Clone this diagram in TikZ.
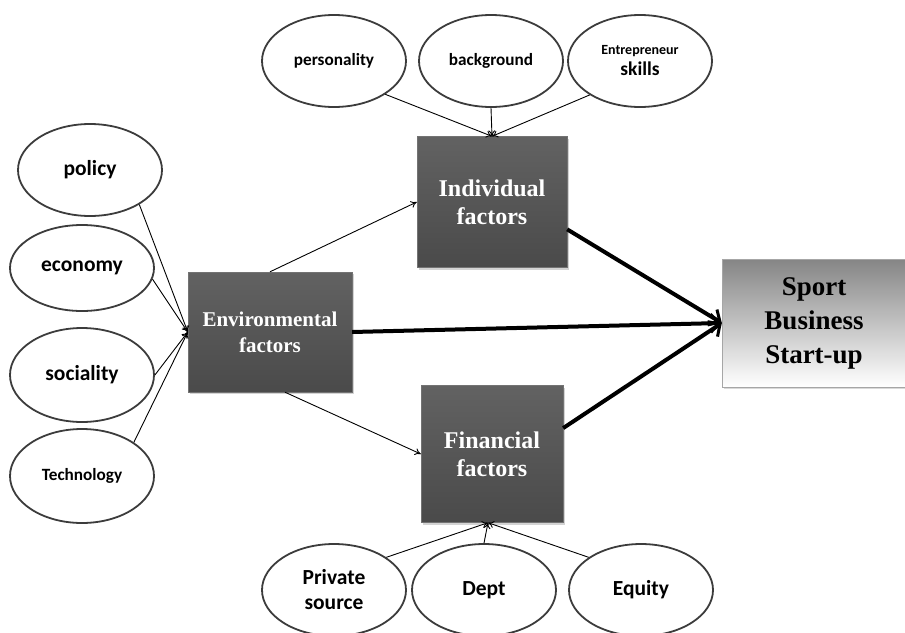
\documentclass[tikz,border=0pt]{standalone}
\usepackage{fontspec}
\setmainfont{Liberation Serif}
\newfontfamily\calibri{Carlito}
\usetikzlibrary{shapes.geometric,arrows.meta,shadows}

\definecolor{ringgray}{HTML}{3C3C3C}
\definecolor{boxtop}{HTML}{626262}
\definecolor{boxbottom}{HTML}{4A4A4A}
\definecolor{goaltop}{HTML}{858585}

\tikzset{
	factor/.style={ellipse, draw=ringgray, line width=1.8pt, fill=white, inner sep=0pt,
		minimum width=144pt, minimum height=92pt, align=center,
		font=\calibri\bfseries\fontsize{21.5}{25}\selectfont},
	smallfactor/.style={factor, font=\calibri\bfseries\fontsize{17.2}{20}\selectfont},
	darkbox/.style={rectangle, draw=black!55, top color=boxtop, bottom color=boxbottom,
		text=white, align=center, inner sep=0pt,
		font=\bfseries\fontsize{24}{28}\selectfont,
		drop shadow={shadow xshift=2pt, shadow yshift=-2pt, opacity=0.35}},
	goalbox/.style={rectangle, draw=black!35, top color=goaltop, bottom color=white,
		align=center, inner sep=0pt, font=\bfseries\fontsize{27}{34}\selectfont,
		drop shadow={shadow xshift=2pt, shadow yshift=-2pt, opacity=0.3}},
	link/.style={line width=0.9pt, -{To[length=6pt,width=7pt]}},
	mainlink/.style={line width=4pt, -{Straight Barb[length=9pt,width=18pt,line width=3pt]}}
}

\begin{document}
\begin{tikzpicture}[x=1pt,y=-1pt]
	\useasboundingbox (0,0) rectangle (905,632);

	% factor boxes
	\node[darkbox, minimum width=164pt, minimum height=120pt, font=\bfseries\fontsize{21}{26}\selectfont]
		(env) at (270,332) {Environmental\\factors};
	\node[darkbox, minimum width=150pt, minimum height=131pt] (ind) at (492,202) {Individual\\factors};
	\node[darkbox, minimum width=142pt, minimum height=137pt] (fin) at (492,454) {Financial\\factors};
	\node[goalbox, minimum width=184pt, minimum height=128pt] (sport) at (814,323) {Sport\\Business\\Start-up};

	% environment
	\node[factor] (policy) at (90,170) {policy};
	\node[factor, minimum height=86pt] (economy) at (82,268) {economy};
	\node[factor, minimum height=94pt] (sociality) at (82,375) {sociality};
	\node[smallfactor, minimum height=94pt] (technology) at (82,476) {Technology};

	% individual
	\node[smallfactor] (personality) at (334,61) {personality};
	\node[smallfactor] (background) at (491,61) {background};
	\node[factor, font=\calibri\bfseries\fontsize{19.5}{21}\selectfont] (skills) at (640,61)
		{{\fontsize{14}{16}\selectfont Entrepreneur}\\skills};

	% financial
	\node[factor] (private) at (334,590) {Private\\source};
	\node[factor] (dept) at (484,590) {Dept};
	\node[factor] (equity) at (641,590) {Equity};

	\draw[link] (policy.-35) -- (env.west);
	\draw[link] (economy.-9) -- (env.west);
	\draw[link] (sociality.east) -- (env.west);
	\draw[link] (technology.33) -- (env.west);

	\draw[link] (personality.-33) -- (ind.north);
	\draw[link] (background.south) -- (ind.north);
	\draw[link] (skills.-146) -- (ind.north);

	\draw[link] (private.32) -- ([xshift=-4pt]fin.south);
	\draw[link] (dept.north) -- ([xshift=-4pt]fin.south);
	\draw[link] (equity.148) -- ([xshift=-4pt]fin.south);

	\draw[link] (env.north) -- (ind.west);
	\draw[link] ([xshift=15pt]env.south) -- (fin.west);

	\draw[mainlink] (env.east) -- (sport.west);
	\draw[mainlink] (ind.-20) -- (sport.west);
	\draw[mainlink] (fin.20) -- (sport.west);
\end{tikzpicture}
\end{document}
